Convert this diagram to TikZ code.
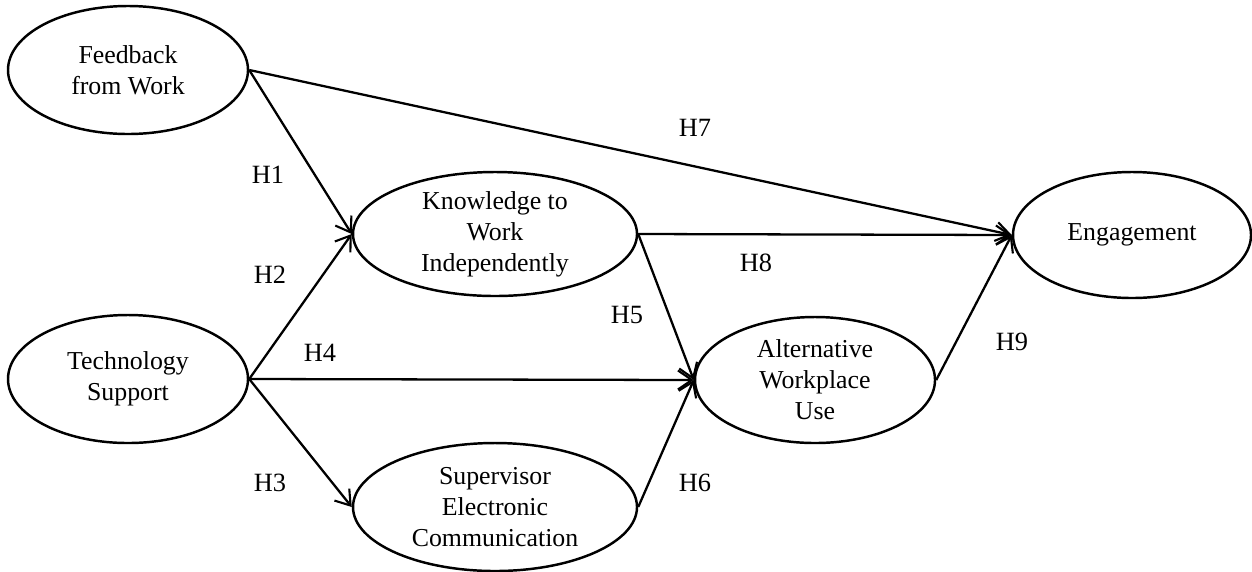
\documentclass[tikz,border=0pt]{standalone}
\usepackage{fontspec}
\setmainfont{Liberation Serif}
\usepackage{tikz}
\usetikzlibrary{shapes.geometric, arrows.meta, positioning}

\begin{document}
\begin{tikzpicture}[
        construct/.style={draw=black, ellipse, line width=1.4pt, inner sep=0pt, align=center, font=\fontsize{14.7pt}{17.6pt}\selectfont},
        hyplabel/.style={font=\fontsize{15pt}{18pt}\selectfont, inner sep=0pt},
        link/.style={-{Straight Barb[length=2.8mm, width=3.8mm, line width=1.2pt]}, line width=1.3pt}
    ]
        \useasboundingbox (0,0) rectangle (25.04,-11.42);

        % constructs
        \node[construct, minimum width=4.8cm, minimum height=2.56cm] (fb) at (2.56,-1.40) {Feedback\\from Work};
        \node[construct, minimum width=4.8cm, minimum height=2.56cm] (tech) at (2.56,-7.58) {Technology\\Support};
        \node[construct, minimum width=5.68cm, minimum height=2.48cm] (know) at (9.90,-4.68) {Knowledge to\\Work\\Independently};
        \node[construct, minimum width=5.68cm, minimum height=2.56cm] (sup) at (9.90,-10.14) {Supervisor\\Electronic\\Communication};
        \node[construct, minimum width=4.8cm, minimum height=2.52cm] (awu) at (16.30,-7.60) {Alternative\\Workplace\\Use};
        \node[construct, minimum width=4.76cm, minimum height=2.52cm] (eng) at (22.64,-4.70) {Engagement};

        % paths
        \draw[link] (fb.east) -- (know.west);
        \draw[link] (fb.east) -- (eng.west);
        \draw[link] (tech.east) -- (know.west);
        \draw[link] (tech.east) -- (sup.west);
        \draw[link] (tech.east) -- (awu.west);
        \draw[link] (know.east) -- (awu.west);
        \draw[link] (know.east) -- (eng.west);
        \draw[link] (sup.east) -- (awu.west);
        \draw[link] (awu.east) -- (eng.west);

        % hypotheses
        \node[hyplabel] (h1) at (5.36,-3.50) {H1};
        \node[hyplabel] (h2) at (5.40,-5.50) {H2};
        \node[hyplabel] (h3) at (5.40,-9.66) {H3};
        \node[hyplabel] (h4) at (6.40,-7.06) {H4};
        \node[hyplabel] (h5) at (12.54,-6.30) {H5};
        \node[hyplabel] (h6) at (13.90,-9.66) {H6};
        \node[hyplabel] (h7) at (13.90,-2.56) {H7};
        \node[hyplabel] (h8) at (15.12,-5.26) {H8};
        \node[hyplabel] (h9) at (20.24,-6.84) {H9};
    \end{tikzpicture}
\end{document}
